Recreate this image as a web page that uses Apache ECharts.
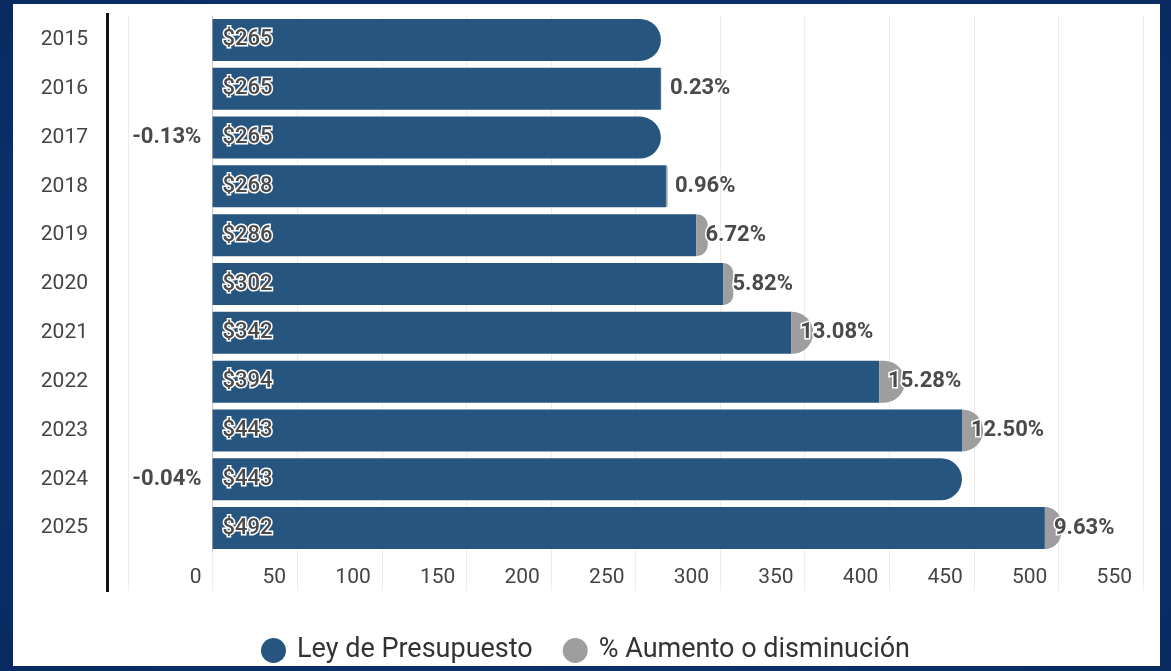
<!DOCTYPE html>
<html>
<head>
<meta charset="utf-8">
<script src="https://cdn.jsdelivr.net/npm/echarts@6/dist/echarts.min.js"></script>
<style>
  html, body { margin: 0; padding: 0; width: 1171px; height: 671px; overflow: hidden;
    background: radial-gradient(ellipse at 50% 50%, #11408a 0%, #0b3270 60%, #082a60 100%); }
  #panel { position: absolute; left: 13px; top: 4px; width: 1147px; height: 662px; background: #ffffff; }
  #c { position: absolute; left: 0; top: 0; width: 1171px; height: 671px; }
</style>
</head>
<body>
<div id="panel"></div>
<div id="c"></div>
<script>
// ---- data ----
const years = ['2015', '2016', '2017', '2018', '2019', '2020', '2021', '2022', '2023', '2024', '2025'];
const budget = [265, 265, 265, 268, 286, 302, 342, 394, 443, 443, 492];
const pctChange = [null, 0.23, -0.13, 0.96, 6.72, 5.82, 13.08, 15.28, 12.50, -0.04, 9.63];
const xMin = -50;
const xMax = 550;
const xStep = 50;
const seriesNames = ['Ley de Presupuesto', '% Aumento o disminución'];

// ---- styles ----
const BLUE = '#265680';
const GREY = '#9e9e9e';
const TXT = '#444444';
const R = 21;

const chart = echarts.init(document.getElementById('c'), null, { renderer: 'canvas' });

const nLines = Math.round((xMax - xMin) / xStep) + 1;
const splitColors = [];
for (let i = 0; i < nLines; i++) {
  splitColors.push(xMin + i * xStep === 0 ? '#c9c9c9' : '#ececec');
}

const blueData = budget.map((v, i) => {
  const p = pctChange[i];
  const isEnd = (p === null || p <= 0);
  return { value: v, itemStyle: { borderRadius: isEnd ? [0, R, R, 0] : 0 } };
});

const greyData = pctChange.map((p) => {
  if (p === null) return { value: '-' };
  if (p < 0) {
    return { value: p, label: { position: 'left', distance: 11 } };
  }
  return { value: p, label: { position: 'insideLeft', distance: 9 } };
});

const option = {
  backgroundColor: 'transparent',
  animation: false,
  textStyle: { fontFamily: 'Roboto, "Noto Sans", sans-serif' },
  grid: { left: 128, right: 28, top: 15.5, bottom: 118.5, containLabel: false },
  legend: {
    data: seriesNames,
    left: 'center',
    top: 632,
    icon: 'circle',
    itemWidth: 25,
    itemHeight: 25,
    itemGap: 30,
    textStyle: { color: '#333', fontSize: 27, fontFamily: 'Roboto, sans-serif', padding: [0, 0, 0, 6] }
  },
  xAxis: {
    type: 'value',
    min: xMin,
    max: xMax,
    interval: xStep,
    axisLine: { show: false },
    axisTick: { show: true, inside: false, length: 38, lineStyle: { color: '#ececec', width: 1 } },
    splitLine: { show: true, lineStyle: { color: splitColors, width: 1 } },
    axisLabel: {
      margin: 15,
      color: TXT,
      fontSize: 21,
      align: 'right',
      padding: [0, 11, 0, 0],
      formatter: (v) => (v < 0 ? '' : String(v))
    }
  },
  yAxis: {
    type: 'category',
    data: years,
    inverse: true,
    axisLine: { show: false },
    axisTick: { show: false },
    axisLabel: { margin: 40, color: TXT, fontSize: 21 }
  },
  series: [
    {
      name: seriesNames[0],
      type: 'bar',
      stack: 'total',
      barWidth: 42,
      itemStyle: { color: BLUE },
      label: {
        show: true,
        position: 'insideLeft',
        distance: 10,
        formatter: (p) => '$' + p.value,
        color: '#4a4a4a',
        fontSize: 22,
        fontWeight: 500,
        textBorderColor: '#ffffff',
        textBorderWidth: 3
      },
      data: blueData
    },
    {
      name: seriesNames[1],
      type: 'bar',
      stack: 'total',
      barWidth: 42,
      itemStyle: { color: GREY, borderRadius: [0, R, R, 0] },
      label: {
        show: true,
        formatter: (p) => Number(p.value).toFixed(2) + '%',
        color: '#4a4a4a',
        fontSize: 22,
        fontWeight: 'bold',
        textBorderColor: '#ffffff',
        textBorderWidth: 3
      },
      data: greyData
    }
  ],
  graphic: [
    {
      type: 'line',
      silent: true,
      shape: { x1: 107.5, y1: 13, x2: 107.5, y2: 592 },
      style: { stroke: '#111111', lineWidth: 3 }
    }
  ]
};

chart.setOption(option);
</script>
</body>
</html>
